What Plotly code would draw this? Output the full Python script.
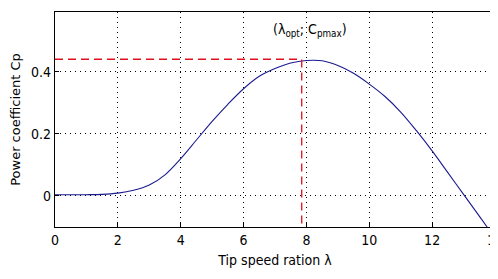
import plotly.graph_objects as go

lam = [0, 0.5, 1, 1.5, 2, 2.5, 3, 3.5, 4, 4.5, 5, 5.5, 6, 6.5, 7, 7.5, 8, 8.5,
       9, 9.5, 10, 10.5, 11, 11.5, 12, 12.5, 13, 13.5, 13.75]
cp = [0.004, 0.004, 0.004, 0.005, 0.009, 0.018, 0.035, 0.068, 0.12, 0.18, 0.24,
      0.295, 0.345, 0.385, 0.41, 0.428, 0.436, 0.435, 0.42, 0.395, 0.36, 0.32,
      0.27, 0.21, 0.145, 0.075, 0.005, -0.065, -0.1]
lam_opt = 7.85
cp_max = 0.44
x_ticks = [0, 2, 4, 6, 8, 10, 12, 14]
y_ticks = [0, 0.2, 0.4]
x_range = [0, 14]
y_range = [-0.1, 0.592]

FONT = "DejaVu Sans Condensed, Liberation Sans Narrow, Arial Narrow, sans-serif"

fig = go.Figure()
fig.add_trace(go.Scatter(x=lam, y=cp, mode="lines", line=dict(color="#1a1a90", width=1.1, shape="spline"),
                         showlegend=False))
fig.add_trace(go.Scatter(x=[x_range[0], lam_opt, lam_opt], y=[cp_max, cp_max, y_range[0]], mode="lines",
                         line=dict(color="#e0101e", width=1.3, dash="8px,5px"), showlegend=False))

fig.add_annotation(x=lam_opt + 0.25, y=0.535, xref="x", yref="y",
                   text="(λ<sub>opt</sub>; C<sub>pmax</sub>)", showarrow=False,
                   font=dict(family=FONT, size=14, color="black"))

axis_common = dict(showline=True, linecolor="black", linewidth=1.3, mirror=True,
                   ticks="inside", ticklen=4, tickcolor="black",
                   showgrid=True, gridcolor="black", griddash="1px,4px", gridwidth=1,
                   zeroline=False, tickfont=dict(family=FONT, size=14, color="black"),
                   ticklabeloverflow="allow")

fig.update_xaxes(range=x_range, tickvals=x_ticks, **axis_common,
                 title=dict(text="Tip speed ration λ", font=dict(family=FONT, size=14, color="black"), standoff=8))
fig.update_yaxes(range=y_range, tickvals=y_ticks, **axis_common,
                 title=dict(text="Power coefficient Cp", font=dict(family="DejaVu Sans, sans-serif", size=13, color="black"), standoff=8))

fig.update_layout(width=498, height=279, margin=dict(l=47, r=8, t=3, b=60),
                  plot_bgcolor="white", paper_bgcolor="white")

fig.write_html("out.html")
